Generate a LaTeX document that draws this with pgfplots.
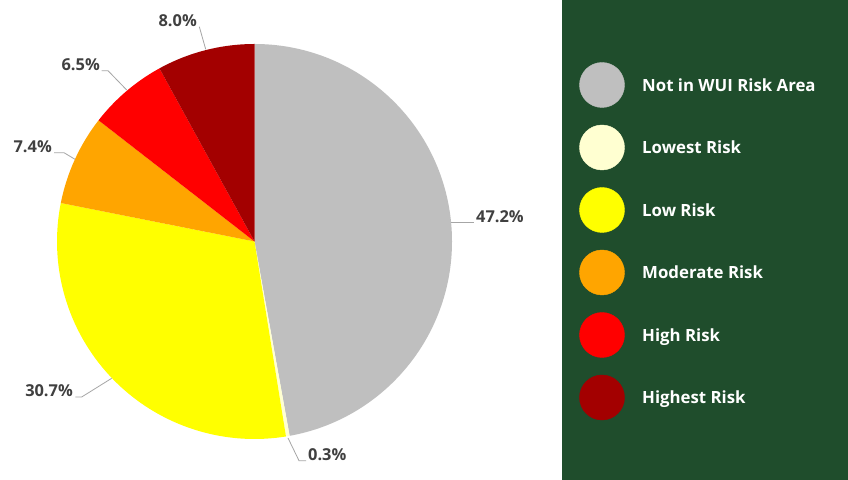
\documentclass[border=0pt]{standalone}
\usepackage{pgfplots}
\pgfplotsset{compat=1.18}
\usepackage{pgfplotstable}
\usepackage{fontspec}
\setmainfont{Open Sans}
\definecolor{c0}{HTML}{BFBFBF}
\definecolor{c1}{HTML}{FFFFD1}
\definecolor{c2}{HTML}{FFFF00}
\definecolor{c3}{HTML}{FFA500}
\definecolor{c4}{HTML}{FF0000}
\definecolor{c5}{HTML}{A30000}
\definecolor{cgreen}{HTML}{1F4D2C}
\definecolor{ctext}{HTML}{404040}
\definecolor{cline}{HTML}{A6A6A6}
\tikzset{
  lbl/.style={inner sep=0pt, text=ctext, font=\fontsize{16.4bp}{18bp}\selectfont\bfseries},
  leg/.style={inner sep=0pt, anchor=base west, text=white, font=\fontsize{16.8bp}{18bp}\selectfont\bfseries}}

\pgfplotstableread{
value
47.2
0.3
30.7
7.4
6.5
8.0
}\piedata

\begin{document}
\begin{tikzpicture}
\begin{axis}[width=848bp, height=480bp, scale only axis,
  xmin=0, xmax=848, ymin=0, ymax=480, hide axis]
\fill[white] (axis cs:0,0) rectangle (axis cs:848,480);
\fill[cgreen] (axis cs:562,0) rectangle (axis cs:848,480);

\pgfmathsetmacro{\cum}{90}
\pgfplotsforeachungrouped \i in {0,...,5}{%
  \pgfplotstablegetelem{\i}{value}\of\piedata
  \pgfmathsetmacro{\endang}{\cum-\pgfplotsretval*3.5964}%
  \pgfmathsetmacro{\sx}{254.5+197.5*cos(\cum)}%
  \pgfmathsetmacro{\sy}{238.5+197.5*sin(\cum)}%
  \edef\temp{\noexpand\fill[c\i] (axis cs:254.5,238.5) -- (axis cs:\sx,\sy) arc[start angle=\cum, end angle=\endang, radius=197.5bp] -- cycle;}%
  \temp
  \global\let\cum\endang
}

% leader lines
\addplot[no markers, cline, line width=0.8bp] coordinates {(451,257.3) (474,257.3)};
\addplot[no markers, cline, line width=0.8bp] coordinates {(288,42) (299,19.3) (306,19.3)};
\addplot[no markers, cline, line width=0.8bp] coordinates {(111.7,101.7) (81.7,83) (75.3,83)};
\addplot[no markers, cline, line width=0.8bp] coordinates {(75,320.7) (64,327.3) (54,327.3)};
\addplot[no markers, cline, line width=0.8bp] coordinates {(126.7,390) (108,409.3) (101.7,409.3)};
\addplot[no markers, cline, line width=0.8bp] coordinates {(205.7,430.7) (199.3,453.3)};

\node[lbl, anchor=base west] at (axis cs:476,257.3) {47.2\%};
\node[lbl, anchor=base west] at (axis cs:308,19.3) {0.3\%};
\node[lbl, anchor=base east] at (axis cs:73,83) {30.7\%};
\node[lbl, anchor=base east] at (axis cs:52,327.5) {7.4\%};
\node[lbl, anchor=base east] at (axis cs:100,409.3) {6.5\%};
\node[lbl, anchor=base east] at (axis cs:197,453) {8.0\%};

% legend
\addplot[only marks, mark=*, mark size=22.5bp, draw=c0, fill=c0, mark options={draw=c0, fill=c0}] coordinates {(602,395)};
\addplot[only marks, mark=*, mark size=22.5bp, draw=c1, fill=c1, mark options={draw=c1, fill=c1}] coordinates {(602,332.5)};
\addplot[only marks, mark=*, mark size=22.5bp, draw=c2, fill=c2, mark options={draw=c2, fill=c2}] coordinates {(602,270)};
\addplot[only marks, mark=*, mark size=22.5bp, draw=c3, fill=c3, mark options={draw=c3, fill=c3}] coordinates {(602,207.5)};
\addplot[only marks, mark=*, mark size=22.5bp, draw=c4, fill=c4, mark options={draw=c4, fill=c4}] coordinates {(602,145)};
\addplot[only marks, mark=*, mark size=22.5bp, draw=c5, fill=c5, mark options={draw=c5, fill=c5}] coordinates {(602,82.5)};

\node[leg] at (axis cs:642,388.7) {Not in WUI Risk Area};
\node[leg] at (axis cs:642,326.2) {Lowest Risk};
\node[leg] at (axis cs:642,263.7) {Low Risk};
\node[leg] at (axis cs:642,201.2) {Moderate Risk};
\node[leg] at (axis cs:642,138.7) {High Risk};
\node[leg] at (axis cs:642,76.2) {Highest Risk};
\end{axis}
\end{tikzpicture}
\end{document}
